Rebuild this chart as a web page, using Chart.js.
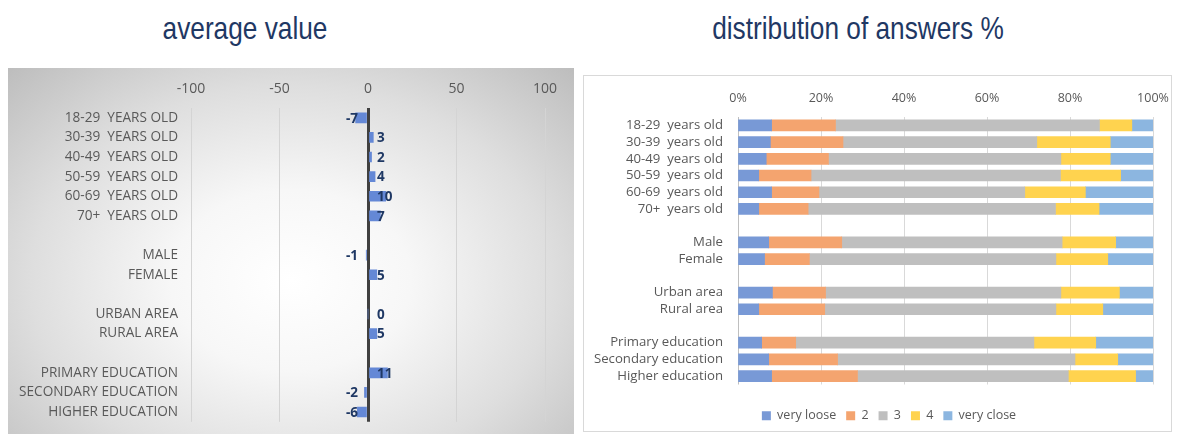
<!DOCTYPE html>
<html>
<head>
<meta charset="utf-8">
<script src="https://cdn.jsdelivr.net/npm/chart.js@4.4.0/dist/chart.umd.min.js"></script>
<style>
  html, body { margin: 0; padding: 0; width: 1180px; height: 434px; overflow: hidden; background: #ffffff; position: relative; }
  .title { position: absolute; top: 12px; width: 500px; text-align: center; font-family: "Liberation Sans", Arial, sans-serif;
           font-size: 32px; line-height: 32px; color: #1F3864; transform: scaleX(0.82); transform-origin: 50% 50%; white-space: nowrap; }
  #leftBg { position: absolute; left: 8px; top: 68px; width: 566px; height: 366px;
            background: radial-gradient(ellipse farthest-corner at 50% 58%, #ffffff 0%, #f7f7f7 30%, #dedede 65%, #bdbdbd 100%); }
  #leftWrap { position: absolute; left: 8px; top: 68px; width: 566px; height: 375px; }
  #rightBox { position: absolute; left: 583px; top: 75px; width: 587px; height: 355px; border: 1px solid #d9d9d9; background: #fff; }
  #rightWrap { position: absolute; left: 584px; top: 76px; width: 610px; height: 380px; }
</style>
</head>
<body>
<div class="title" style="left:-5px;">average value</div>
<div class="title" style="left:608px;">distribution of answers %</div>
<div id="leftBg"></div>
<div id="leftWrap"><canvas id="left" width="566" height="375"></canvas></div>
<div id="rightBox"></div>
<div id="rightWrap"><canvas id="right" width="610" height="380"></canvas></div>
<script>
// ---------- data ----------
const avgCategories = ['18-29  YEARS OLD', '30-39  YEARS OLD', '40-49  YEARS OLD', '50-59  YEARS OLD', '60-69  YEARS OLD', '70+  YEARS OLD', '',
  'MALE', 'FEMALE', '', 'URBAN AREA', 'RURAL AREA', '', 'PRIMARY EDUCATION', 'SECONDARY EDUCATION', 'HIGHER EDUCATION'];
const avgValues = [-7, 3, 2, 4, 10, 7, null, -1, 5, null, 0, 5, null, 11, -2, -6];
const avgTicks = [-100, -50, 0, 50, 100];

const distCategories = ['18-29  years old', '30-39  years old', '40-49  years old', '50-59  years old', '60-69  years old', '70+  years old', '',
  'Male', 'Female', '', 'Urban area', 'Rural area', '', 'Primary education', 'Secondary education', 'Higher education'];
const seriesNames = ['very loose', '2', '3', '4', 'very close'];
const veryLoose = [8.1, 7.8, 6.8, 5.0, 8.1, 5.0, null, 7.4, 6.4, null, 8.3, 5.0, null, 5.7, 7.4, 8.1];
const answer2   = [15.4, 17.5, 15.0, 12.6, 11.4, 11.9, null, 17.6, 10.8, null, 12.8, 15.9, null, 8.2, 16.6, 20.7];
const answer3   = [63.6, 46.7, 56.0, 60.1, 49.6, 59.6, null, 53.1, 59.4, null, 56.7, 55.7, null, 57.4, 57.2, 50.8];
const answer4   = [7.8, 17.7, 11.9, 14.5, 14.6, 10.5, null, 12.9, 12.5, null, 14.1, 11.3, null, 14.9, 10.3, 16.2];
const veryClose = [5.1, 10.3, 10.3, 7.8, 16.3, 13.0, null, 9.0, 10.9, null, 8.1, 12.1, null, 13.8, 8.5, 4.2];
const distTicks = ['0%', '20%', '40%', '60%', '80%', '100%'];

const labelFont = '"Open Sans", "Liberation Sans", sans-serif';
const grey = '#595959';

// ---------- left chart ----------
const valueLabels = {
  id: 'valueLabels',
  afterDatasetsDraw(chart) {
    const ctx = chart.ctx;
    const xs = chart.scales.x;
    const x0 = xs.getPixelForValue(0);
    const meta = chart.getDatasetMeta(0);
    ctx.save();
    ctx.font = 'bold 13.5px ' + labelFont;
    ctx.fillStyle = '#1F3864';
    ctx.textBaseline = 'middle';
    meta.data.forEach((el, i) => {
      const v = avgValues[i];
      if (v === null) return;
      if (v >= 0) { ctx.textAlign = 'left'; ctx.fillText(String(v), x0 + 9, el.y + 1); }
      else { ctx.textAlign = 'right'; ctx.fillText(String(v), x0 - 10, el.y + 1); }
    });
    ctx.restore();
  }
};

new Chart(document.getElementById('left'), {
  type: 'bar',
  data: {
    labels: avgCategories,
    datasets: [{ data: avgValues, backgroundColor: '#6488d6', borderWidth: 0, barThickness: 10 }]
  },
  options: {
    indexAxis: 'y',
    responsive: false,
    animation: false,
    layout: { padding: { left: 0, right: 29, top: 0, bottom: 0 } },
    plugins: { legend: { display: false }, tooltip: { enabled: false } },
    scales: {
      x: {
        position: 'top', min: -100, max: 100, z: 1,
        afterBuildTicks(scale) { scale.ticks = avgTicks.map(v => ({ value: v })); },
        afterFit(scale) { scale.height = 40; },
        ticks: { color: grey, font: { family: labelFont, size: 14 }, padding: 11 },
        grid: {
          drawTicks: false,
          color: c => (c.tick && c.tick.value === 0) ? '#404040' : '#d4d4d4',
          lineWidth: c => (c.tick && c.tick.value === 0) ? 3 : 1
        },
        border: { display: false }
      },
      y: {
        afterFit(scale) { scale.width = 183; },
        ticks: { color: grey, font: { family: labelFont, size: 13.6 }, padding: 13, autoSkip: false },
        grid: { display: false, drawTicks: false },
        border: { display: false }
      }
    }
  },
  plugins: [valueLabels]
});

// ---------- right chart ----------
const colors = ['#7899d6', '#f4a46f', '#bfbfbf', '#ffd34f', '#8cb6e0'];
const seriesData = [veryLoose, answer2, answer3, answer4, veryClose];

new Chart(document.getElementById('right'), {
  type: 'bar',
  data: {
    labels: distCategories,
    datasets: seriesData.map((d, i) => ({
      label: seriesNames[i], data: d, backgroundColor: colors[i], borderWidth: 0, barThickness: 11,
      xAxisID: 'x', yAxisID: 'y'
    }))
  },
  options: {
    indexAxis: 'y',
    responsive: false,
    animation: false,
    layout: { padding: { left: 0, right: 0, top: 0, bottom: 24 } },
    plugins: {
      tooltip: { enabled: false },
      legend: {
        position: 'bottom',
        labels: { boxWidth: 9, boxHeight: 9, padding: 10, color: grey, font: { family: labelFont, size: 12.5 } }
      }
    },
    scales: {
      x: {
        axis: 'x', position: 'top', stacked: true, min: 0, max: 100,
        afterBuildTicks(scale) { scale.ticks = distTicks.map((t, i) => ({ value: i * 20 })); },
        afterFit(scale) { scale.height = 41; },
        ticks: { color: grey, font: { family: labelFont, size: 12.5 }, padding: 11,
                 callback: (v, i) => distTicks[i] },
        grid: { drawTicks: false, color: c => (c.tick && c.tick.value === 0) ? '#bfbfbf' : '#d9d9d9' },
        border: { display: false }
      },
      y: {
        axis: 'y', type: 'category', stacked: true,
        afterFit(scale) { scale.width = 154; },
        ticks: { color: grey, font: { family: labelFont, size: 13.2 }, padding: 15, autoSkip: false },
        grid: { display: false, drawTicks: false },
        border: { display: false }
      },
      xSpacer: {
        axis: 'x', type: 'linear', position: 'bottom', display: true, min: 0, max: 1,
        afterFit(scale) { scale.height = 15; },
        ticks: { display: false }, grid: { display: false, drawTicks: false }, border: { display: false }
      },
      ySpacer: {
        axis: 'y', type: 'linear', position: 'right', display: true, min: 0, max: 1,
        afterFit(scale) { scale.width = 41; },
        ticks: { display: false }, grid: { display: false, drawTicks: false }, border: { display: false }
      }
    }
  }
});
</script>
</body>
</html>
